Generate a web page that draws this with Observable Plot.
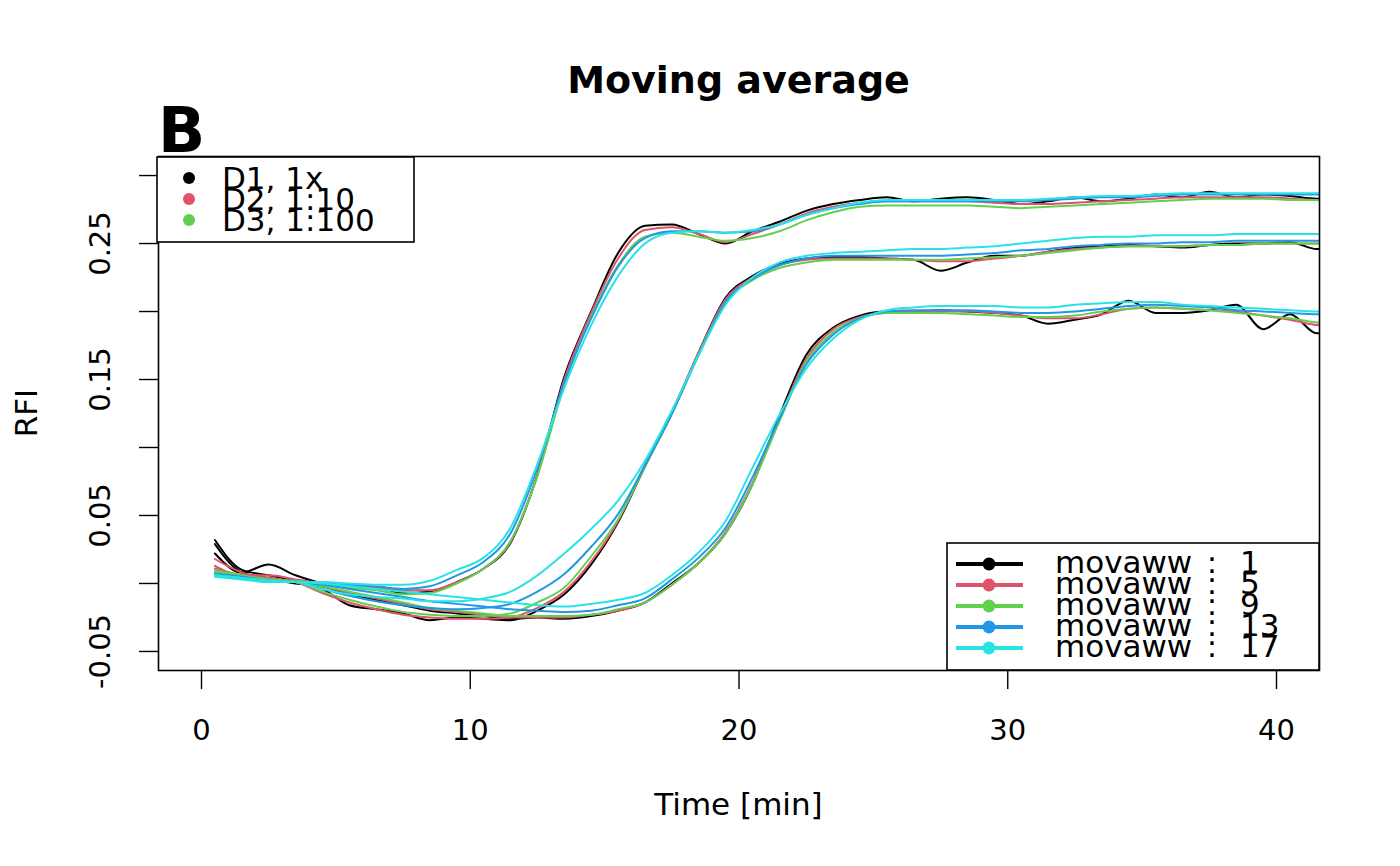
<!DOCTYPE html>
<html>
<head>
<meta charset="utf-8">
<script src="https://cdn.jsdelivr.net/npm/d3@7"></script>
<script src="https://cdn.jsdelivr.net/npm/@observablehq/plot@0.6"></script>
<style>
  html, body { margin: 0; padding: 0; background: white; }
  svg { display: block; }
</style>
</head>
<body>
<div id="chart"></div>
<script>
// ---- data ----
const time = [0.5,1.5,2.5,3.5,4.5,5.5,6.5,7.5,8.5,9.5,10.5,11.5,12.5,13.5,14.5,15.5,16.5,17.5,18.5,19.5,20.5,21.5,22.5,23.5,24.5,25.5,26.5,27.5,28.5,29.5,30.5,31.5,32.5,33.5,34.5,35.5,36.5,37.5,38.5,39.5,40.5,41.5,42.5];
const windows = [1, 5, 9, 13, 17];
const windowColors = ["#000000", "#DF536B", "#61D04F", "#2297E6", "#28E2E5"];
const dilutions = ["D1, 1x", "D2, 1:10", "D3, 1:100"];
const xTicks = [0, 10, 20, 30, 40];
const yTicks = [-0.05, 0, 0.05, 0.1, 0.15, 0.2, 0.25, 0.3];
const yLabelTicks = [-0.05, 0.05, 0.15, 0.25];
const yLabels = ["-0.05", "0.05", "0.15", "0.25"];

// D1, 1x
const d1w1  = [0.022,0.008,0.014,0.006,0.000,-0.003,-0.003,-0.007,-0.006,0.001,0.011,0.030,0.080,0.152,0.200,0.243,0.263,0.264,0.257,0.250,0.259,0.266,0.274,0.279,0.282,0.284,0.281,0.283,0.284,0.282,0.279,0.281,0.284,0.281,0.283,0.286,0.284,0.288,0.284,0.286,0.285,0.283,0.284];
const d1w5  = [0.013,0.006,0.006,0.003,0.000,-0.002,-0.003,-0.005,-0.005,0.001,0.011,0.031,0.080,0.150,0.199,0.239,0.260,0.262,0.257,0.251,0.257,0.264,0.272,0.277,0.280,0.281,0.281,0.281,0.281,0.280,0.279,0.279,0.280,0.281,0.282,0.283,0.284,0.284,0.284,0.284,0.283,0.282,0.281];
const d1w9  = [0.008,0.005,0.003,0.002,-0.001,-0.003,-0.005,-0.008,-0.007,0.000,0.011,0.031,0.079,0.146,0.196,0.234,0.255,0.258,0.255,0.252,0.254,0.259,0.267,0.273,0.277,0.278,0.278,0.278,0.278,0.277,0.276,0.277,0.278,0.279,0.280,0.281,0.282,0.283,0.283,0.283,0.282,0.282,0.281];
const d1w13 = [0.007,0.004,0.002,0.001,0.000,-0.001,-0.002,-0.004,-0.002,0.006,0.016,0.037,0.085,0.148,0.195,0.233,0.254,0.259,0.259,0.258,0.259,0.264,0.271,0.276,0.279,0.281,0.281,0.281,0.281,0.281,0.281,0.282,0.283,0.284,0.284,0.285,0.286,0.286,0.286,0.286,0.286,0.286,0.286];
const d1w17 = [0.005,0.003,0.001,0.001,0.001,0.000,-0.001,-0.001,0.002,0.010,0.019,0.041,0.088,0.144,0.190,0.226,0.250,0.258,0.259,0.258,0.260,0.264,0.271,0.276,0.280,0.282,0.282,0.282,0.282,0.282,0.282,0.283,0.284,0.285,0.285,0.286,0.287,0.287,0.287,0.287,0.287,0.287,0.287];
// D2, 1:10
const d2w1  = [0.032,0.010,0.006,0.002,-0.004,-0.016,-0.019,-0.022,-0.027,-0.025,-0.026,-0.027,-0.020,-0.008,0.014,0.045,0.086,0.125,0.170,0.210,0.226,0.235,0.239,0.240,0.240,0.239,0.238,0.230,0.236,0.241,0.241,0.244,0.247,0.248,0.249,0.248,0.247,0.249,0.250,0.250,0.251,0.246,0.249];
const d2w5  = [0.018,0.008,0.004,0.001,-0.007,-0.014,-0.019,-0.023,-0.025,-0.026,-0.026,-0.025,-0.018,-0.006,0.016,0.046,0.087,0.126,0.170,0.209,0.225,0.234,0.238,0.239,0.239,0.239,0.238,0.237,0.237,0.239,0.241,0.244,0.246,0.247,0.248,0.248,0.248,0.249,0.249,0.250,0.250,0.250,0.250];
const d2w9  = [0.010,0.006,0.003,0.001,-0.006,-0.012,-0.017,-0.021,-0.023,-0.024,-0.024,-0.022,-0.014,-0.003,0.020,0.047,0.086,0.125,0.169,0.207,0.223,0.232,0.236,0.238,0.238,0.238,0.238,0.238,0.239,0.240,0.241,0.243,0.245,0.247,0.248,0.248,0.248,0.249,0.249,0.250,0.250,0.250,0.250];
const d2w13 = [0.007,0.005,0.002,0.001,-0.004,-0.009,-0.013,-0.016,-0.018,-0.019,-0.018,-0.015,-0.006,0.007,0.027,0.051,0.087,0.125,0.168,0.207,0.224,0.234,0.239,0.241,0.241,0.241,0.241,0.241,0.242,0.243,0.245,0.246,0.248,0.249,0.250,0.250,0.251,0.251,0.252,0.252,0.252,0.252,0.252];
const d2w17 = [0.006,0.004,0.002,0.001,-0.004,-0.008,-0.010,-0.011,-0.013,-0.013,-0.011,-0.006,0.006,0.022,0.040,0.061,0.090,0.127,0.168,0.205,0.225,0.236,0.241,0.243,0.244,0.245,0.246,0.246,0.247,0.248,0.250,0.252,0.254,0.255,0.255,0.256,0.256,0.256,0.257,0.257,0.257,0.257,0.257];
// D3, 1:100
const d3w1  = [0.029,0.008,0.004,0.000,-0.002,-0.008,-0.012,-0.016,-0.020,-0.022,-0.024,-0.026,-0.025,-0.026,-0.024,-0.020,-0.014,0.000,0.015,0.037,0.073,0.123,0.168,0.188,0.197,0.200,0.200,0.201,0.200,0.199,0.197,0.191,0.194,0.198,0.208,0.199,0.199,0.201,0.205,0.187,0.198,0.184,0.190];
const d3w5  = [0.011,0.006,0.004,0.001,-0.002,-0.007,-0.011,-0.015,-0.019,-0.021,-0.023,-0.025,-0.025,-0.025,-0.023,-0.020,-0.014,-0.001,0.015,0.038,0.074,0.121,0.165,0.187,0.196,0.199,0.200,0.200,0.200,0.199,0.197,0.195,0.195,0.198,0.202,0.203,0.202,0.201,0.200,0.197,0.194,0.190,0.189];
const d3w9  = [0.009,0.005,0.003,0.001,-0.002,-0.006,-0.010,-0.014,-0.018,-0.020,-0.022,-0.024,-0.024,-0.024,-0.023,-0.019,-0.014,-0.001,0.015,0.037,0.073,0.119,0.163,0.185,0.195,0.199,0.199,0.199,0.198,0.197,0.196,0.196,0.197,0.200,0.202,0.203,0.202,0.201,0.199,0.197,0.195,0.192,0.191];
const d3w13 = [0.007,0.004,0.002,0.001,-0.001,-0.004,-0.007,-0.010,-0.013,-0.015,-0.017,-0.019,-0.020,-0.021,-0.020,-0.016,-0.011,0.003,0.019,0.041,0.078,0.121,0.161,0.183,0.195,0.200,0.201,0.201,0.201,0.200,0.199,0.199,0.200,0.202,0.204,0.205,0.204,0.203,0.201,0.200,0.199,0.198,0.198];
const d3w17 = [0.006,0.004,0.002,0.001,0.000,-0.002,-0.004,-0.006,-0.008,-0.010,-0.012,-0.014,-0.016,-0.017,-0.015,-0.012,-0.007,0.006,0.023,0.046,0.085,0.124,0.158,0.180,0.194,0.201,0.203,0.204,0.204,0.204,0.203,0.203,0.205,0.206,0.207,0.207,0.205,0.204,0.203,0.202,0.201,0.200,0.200];

const seriesByDilution = [
  [d1w1, d1w5, d1w9, d1w13, d1w17],
  [d2w1, d2w5, d2w9, d2w13, d2w17],
  [d3w1, d3w5, d3w9, d3w13, d3w17]
];

// long-format table
const rows = [];
seriesByDilution.forEach((arrs, di) => {
  arrs.forEach((vals, wi) => {
    vals.forEach((v, i) => rows.push({t: time[i], v, dil: dilutions[di], win: windows[wi]}));
  });
});

const FONT = "DejaVu Sans";

const lineMarks = windows.map((w, wi) =>
  Plot.line(rows.filter(r => r.win === w), {
    x: "t", y: "v", z: "dil",
    stroke: windowColors[wi], strokeWidth: 2,
    curve: "monotone-x", clip: true
  })
);

const chart = Plot.plot({
  width: 1400,
  height: 866,
  marginLeft: 158,
  marginRight: 81,
  marginTop: 156,
  marginBottom: 196,
  style: {fontFamily: FONT, fontSize: "29px", background: "white", color: "black"},
  x: {domain: [-1.6, 41.6], axis: null},
  y: {domain: [-0.064, 0.314], axis: null},
  marks: [
    ...lineMarks,
    Plot.frame({stroke: "black", strokeWidth: 1.6}),
    Plot.axisX({ticks: xTicks, tickSize: 19, tickFormat: () => "", label: null, strokeWidth: 1.4}),
    Plot.axisY({ticks: yTicks, tickSize: 19, tickFormat: () => "", label: null, strokeWidth: 1.4}),
    Plot.text(xTicks, {x: d => d, text: d => String(d), frameAnchor: "bottom", dy: 60, lineAnchor: "middle", fontSize: 29, fill: "black"}),
    Plot.text(yLabelTicks, {y: d => d, text: (d, i) => yLabels[i], frameAnchor: "left", dx: -58, rotate: -90, textAnchor: "middle", lineAnchor: "middle", fontSize: 29, fill: "black"})
  ]
});

document.getElementById("chart").appendChild(chart);

// ---- titles, axis labels and legends ----
const svg = d3.select(chart);
const g = svg.append("g").attr("font-family", FONT).attr("fill", "black").attr("text-anchor", "start");

g.append("text").attr("x", 738.5).attr("y", 93).attr("text-anchor", "middle")
  .attr("font-size", 38).attr("font-weight", "bold").text("Moving average");
g.append("text").attr("x", 158).attr("y", 152).attr("text-anchor", "start")
  .attr("font-size", 62).attr("font-weight", "bold").text("B");
g.append("text").attr("transform", "translate(37,413) rotate(-90)").attr("text-anchor", "middle")
  .attr("font-size", 31).text("RFI");
g.append("text").attr("x", 738.5).attr("y", 815).attr("text-anchor", "middle")
  .attr("font-size", 31).text("Time [min]");

// dilution legend (top-left)
const lg1 = g.append("g");
lg1.append("rect").attr("x", 157).attr("y", 157).attr("width", 257).attr("height", 85)
  .attr("fill", "white").attr("stroke", "black").attr("stroke-width", 1.6);
dilutions.forEach((d, i) => {
  const cy = 178 + 21 * i;
  lg1.append("circle").attr("cx", 189).attr("cy", cy).attr("r", 6).attr("fill", windowColors[i]);
  lg1.append("text").attr("x", 222).attr("y", cy + 11).attr("text-anchor", "start")
    .attr("font-size", 31).text(d);
});

// window legend (bottom-right)
const lg2 = g.append("g");
lg2.append("rect").attr("x", 947).attr("y", 543).attr("width", 372).attr("height", 127)
  .attr("fill", "white").attr("stroke", "black").attr("stroke-width", 1.6);
windows.forEach((w, i) => {
  const cy = 564 + 21 * i;
  lg2.append("line").attr("x1", 956).attr("x2", 1023).attr("y1", cy).attr("y2", cy)
    .attr("stroke", windowColors[i]).attr("stroke-width", 4);
  lg2.append("circle").attr("cx", 989).attr("cy", cy).attr("r", 6.5).attr("fill", windowColors[i]);
  lg2.append("text").attr("x", 1055).attr("y", cy + 9).attr("text-anchor", "start")
    .attr("font-size", 31).text("movaww");
  lg2.append("text").attr("x", 1212).attr("y", cy + 9).attr("text-anchor", "middle")
    .attr("font-size", 31).text(":");
  lg2.append("text").attr("x", 1240).attr("y", cy + 9).attr("text-anchor", "start")
    .attr("font-size", 31).text(String(w));
});
</script>
</body>
</html>
